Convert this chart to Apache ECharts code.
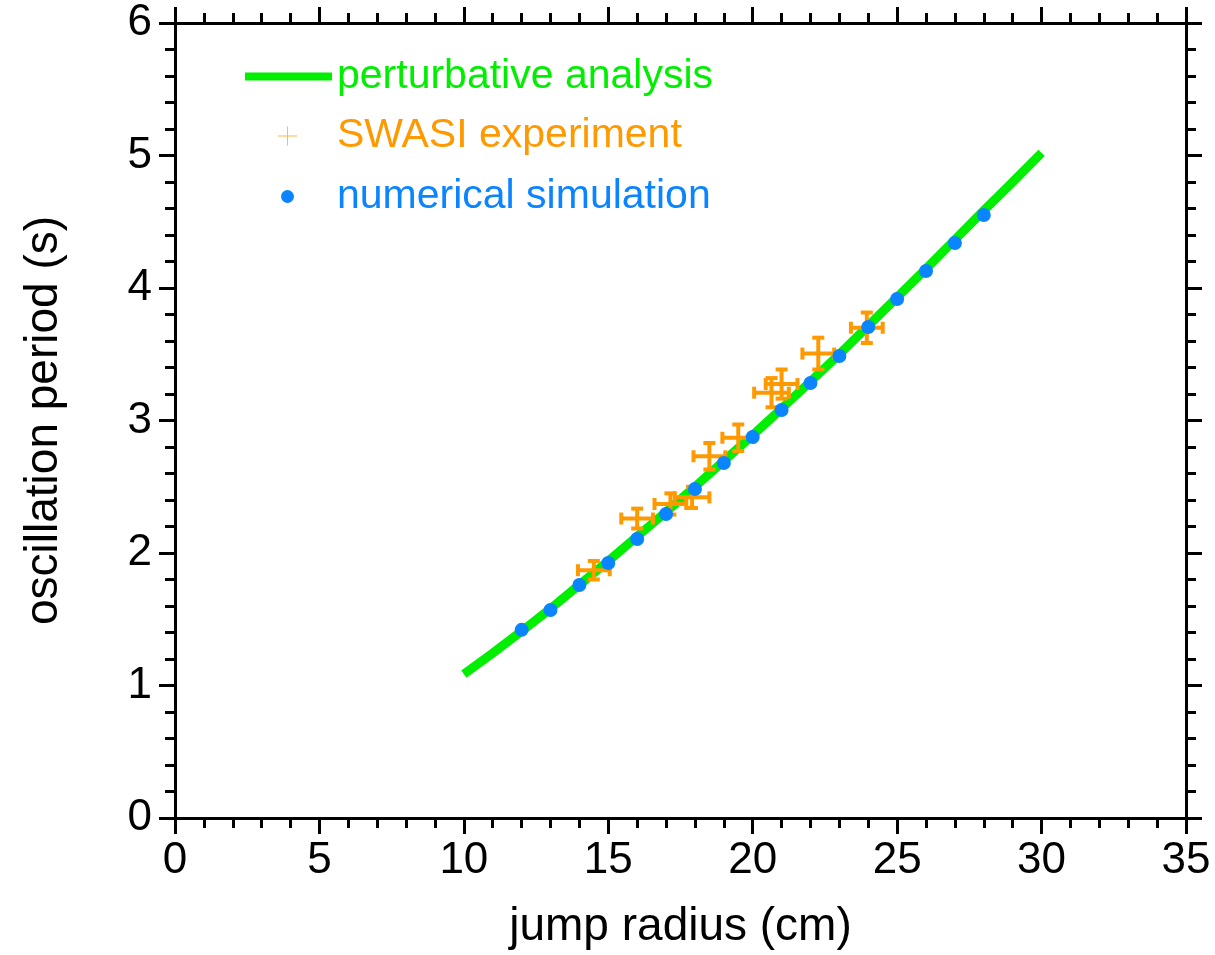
<!DOCTYPE html>
<html><head><meta charset="utf-8">
<script src="https://cdn.jsdelivr.net/npm/echarts@6/dist/echarts.min.js"></script>
<style>html,body{margin:0;padding:0;background:#fff}#c{width:1215px;height:955px}</style>
</head><body><div id="c"></div>
<script>
const FONT = "'Liberation Sans', Helvetica, Arial, sans-serif";

// perturbative analysis (green curve)
const theoryX = [10, 11, 12, 13, 14, 15, 16, 17, 18, 19, 20, 21, 22, 23, 24, 25, 26, 27, 28, 29, 30];
const theoryY = [1.085, 1.245, 1.41, 1.58, 1.76, 1.94, 2.125, 2.31, 2.50, 2.695, 2.89, 3.09, 3.295, 3.50, 3.715, 3.93, 4.145, 4.365, 4.585, 4.80, 5.02];

// numerical simulation (blue dots)
const simX = [12, 13, 14, 15, 16, 17, 18, 19, 20, 21, 22, 23, 24, 25, 26, 27, 28];
const simY = [1.42, 1.57, 1.758, 1.925, 2.106, 2.294, 2.483, 2.679, 2.875, 3.079, 3.283, 3.487, 3.706, 3.917, 4.128, 4.34, 4.551];

// SWASI experiment (orange crosses with error bars)
const expX    = [14.5, 16.0, 17.15, 17.9, 18.5, 19.5, 20.65, 21.0, 22.27, 23.95];
const expY    = [1.87, 2.26, 2.37, 2.42, 2.73, 2.87, 3.21, 3.275, 3.505, 3.70];
const expXErr = [0.55, 0.55, 0.55, 0.6, 0.55, 0.55, 0.6, 0.55, 0.55, 0.55];
const expYErr = [0.07, 0.075, 0.08, 0.08, 0.10, 0.10, 0.11, 0.11, 0.12, 0.115];

const seriesNames = ['perturbative analysis', 'SWASI experiment', 'numerical simulation'];
const xAxisTitle = 'jump radius (cm)';
const yAxisTitle = 'oscillation period (s)';

const GREEN = '#00ee00', ORANGE = '#ff9900', BLUE = '#0a84ff';

const chart = echarts.init(document.getElementById('c'), null, {renderer: 'canvas'});

function axisCommon(extra) {
  return Object.assign({
    type: 'value',
    axisLine: {show: true, onZero: false, lineStyle: {color: '#000', width: 3}},
    axisTick: {show: true, inside: false, length: 16, lineStyle: {color: '#000', width: 3}},
    minorTick: {show: true, splitNumber: 5, length: 10, lineStyle: {color: '#000', width: 3}},
    splitLine: {show: false},
    minorSplitLine: {show: false},
    nameMoveOverlap: false
  }, extra);
}

const xMain = axisCommon({
  position: 'bottom', min: 0, max: 35, interval: 5,
  name: xAxisTitle, nameLocation: 'middle', nameGap: 86,
  nameTextStyle: {fontSize: 46, color: '#000', fontFamily: FONT},
  axisLabel: {show: true, fontSize: 44, margin: 21, color: '#000', fontFamily: FONT}
});
const xTop = axisCommon({
  position: 'top', min: 0, max: 35, interval: 5,
  axisLabel: {show: false}
});
const yMain = axisCommon({
  position: 'left', min: 0, max: 6, interval: 1,
  name: yAxisTitle, nameLocation: 'middle', nameGap: 108,
  nameTextStyle: {fontSize: 46, color: '#000', fontFamily: FONT},
  axisLabel: {show: true, fontSize: 44, margin: 23, color: '#000', fontFamily: FONT}
});
const yRight = axisCommon({
  position: 'right', min: 0, max: 6, interval: 1,
  axisLabel: {show: false}
});

const theoryData = theoryX.map((x, i) => [x, theoryY[i]]);
const simData = simX.map((x, i) => [x, simY[i]]);
const expData = expX.map((x, i) => [x, expY[i], expXErr[i], expYErr[i]]);

function renderErr(params, api) {
  const x = api.value(0), y = api.value(1), ex = api.value(2), ey = api.value(3);
  const l = api.coord([x - ex, y]), r = api.coord([x + ex, y]);
  const t = api.coord([x, y + ey]), b = api.coord([x, y - ey]);
  const cap = 6;
  const st = {stroke: ORANGE, lineWidth: 4, fill: null};
  const seg = (x1, y1, x2, y2) => ({type: 'line', shape: {x1, y1, x2, y2}, style: st});
  return {
    type: 'group',
    children: [
      seg(l[0], l[1], r[0], r[1]),
      seg(t[0], t[1], b[0], b[1]),
      seg(l[0], l[1] - cap, l[0], l[1] + cap),
      seg(r[0], r[1] - cap, r[0], r[1] + cap),
      seg(t[0] - cap, t[1], t[0] + cap, t[1]),
      seg(b[0] - cap, b[1], b[0] + cap, b[1])
    ]
  };
}

const legendBase = {
  orient: 'vertical', padding: 0, selectedMode: false, itemGap: 0
};

const option = {
  animation: false,
  backgroundColor: '#fff',
  grid: {left: 175, right: 29, top: 23, bottom: 137, containLabel: false, outerBoundsMode: 'none'},
  xAxis: [xMain, xTop],
  yAxis: [yMain, yRight],
  legend: [
    Object.assign({}, legendBase, {
      left: 245, top: 56, itemWidth: 87, itemHeight: 8,
      data: [{name: seriesNames[0], icon: 'rect', itemStyle: {color: GREEN}}],
      textStyle: {fontSize: 41, lineHeight: 41, color: GREEN, fontFamily: FONT}
    }),
    Object.assign({}, legendBase, {
      left: 278, top: 115.5, itemWidth: 19, itemHeight: 19,
      data: [{name: seriesNames[1], icon: 'path://M0,9.5H20V10.5H0Z M9.5,0H10.5V20H9.5Z', itemStyle: {color: ORANGE, opacity: 0.7}}],
      textStyle: {fontSize: 41, lineHeight: 41, color: ORANGE, fontFamily: FONT, padding: [0, 0, 0, 35]}
    }),
    Object.assign({}, legendBase, {
      left: 281, top: 176, itemWidth: 13, itemHeight: 13,
      data: [{name: seriesNames[2], icon: 'circle', itemStyle: {color: BLUE}}],
      textStyle: {fontSize: 41, lineHeight: 41, color: BLUE, fontFamily: FONT, padding: [0, 0, 0, 38]}
    })
  ],
  series: [
    {
      name: seriesNames[0], type: 'line', xAxisIndex: 0, yAxisIndex: 0,
      data: theoryData, showSymbol: false, symbol: 'none', smooth: false,
      lineStyle: {color: GREEN, width: 9, cap: 'butt'}, itemStyle: {color: GREEN}, z: 2
    },
    {
      name: seriesNames[1], type: 'custom', xAxisIndex: 0, yAxisIndex: 0,
      data: expData, renderItem: renderErr, encode: {x: 0, y: 1},
      itemStyle: {color: ORANGE}, z: 3
    },
    {
      name: seriesNames[2], type: 'scatter', xAxisIndex: 0, yAxisIndex: 0,
      data: simData, symbol: 'circle', symbolSize: 14,
      itemStyle: {color: BLUE, opacity: 1}, z: 4
    }
  ]
};
chart.setOption(option);
</script>
</body></html>
